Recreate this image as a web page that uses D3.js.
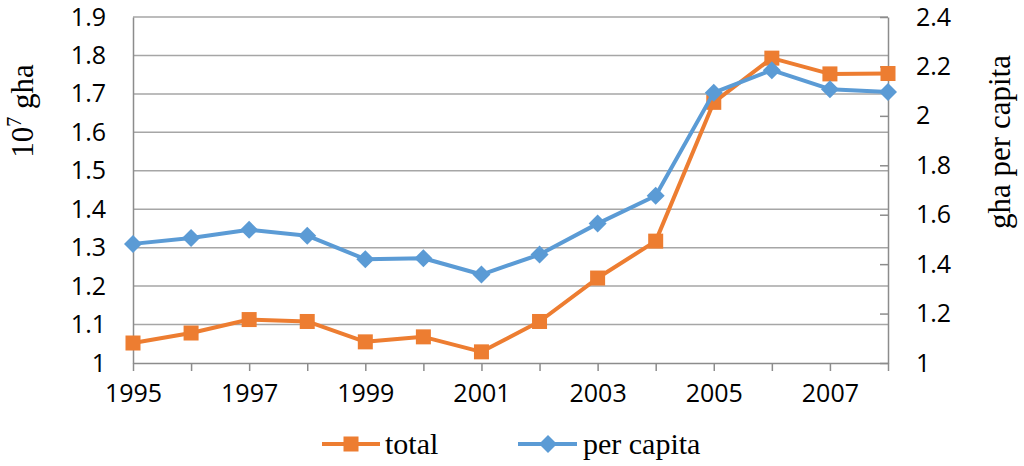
<!DOCTYPE html>
<html>
<head>
<meta charset="utf-8">
<script src="https://cdn.jsdelivr.net/npm/d3@7"></script>
<style>
  body { margin: 0; background: #fff; }
  text { fill: #000; }
</style>
</head>
<body>
<script>
// data
const years = [1995, 1996, 1997, 1998, 1999, 2000, 2001, 2002, 2003, 2004, 2005, 2006, 2007, 2008];
const total = [1.052, 1.078, 1.113, 1.108, 1.055, 1.068, 1.029, 1.108, 1.221, 1.317, 1.678, 1.793, 1.752, 1.753];
const perCapita = [1.482, 1.506, 1.539, 1.515, 1.420, 1.424, 1.358, 1.439, 1.564, 1.677, 2.094, 2.185, 2.108, 2.097];
const leftTicks = [1, 1.1, 1.2, 1.3, 1.4, 1.5, 1.6, 1.7, 1.8, 1.9];
const rightTicks = [1, 1.2, 1.4, 1.6, 1.8, 2, 2.2, 2.4];
const yearLabels = [1995, 1997, 1999, 2001, 2003, 2005, 2007];

const W = 1024, H = 466;
const margin = {top: 17, right: 136, bottom: 103, left: 133};
const w = W - margin.left - margin.right;
const h = H - margin.top - margin.bottom;

const orange = '#ED7D31', blue = '#5B9BD5';
const tickFont = '"Open Sans", sans-serif';
const titleFont = '"Liberation Serif", "Times New Roman", serif';

const svg = d3.select('body').append('svg')
    .attr('width', W)
    .attr('height', H);

const g = svg.append('g')
    .attr('transform', 'translate(' + margin.left + ',' + margin.top + ')');

const x = d3.scaleLinear().domain([1995, 2008]).range([0, w]);
const yL = d3.scaleLinear().domain([1, 1.9]).range([h, 0]);
const yR = d3.scaleLinear().domain([1, 2.4]).range([h, 0]);

// gridlines
g.append('g')
  .selectAll('line')
  .data(leftTicks.slice(1))
  .join('line')
    .attr('x1', 0).attr('x2', w)
    .attr('y1', d => yL(d)).attr('y2', d => yL(d))
    .attr('stroke', '#a6a6a6').attr('stroke-width', 1.5);

// left axis
const axL = g.append('g')
    .call(d3.axisLeft(yL).tickValues(leftTicks).tickSize(0).tickPadding(27).tickFormat(d3.format('')));
axL.select('.domain').attr('stroke', '#8c8c8c').attr('stroke-width', 1.5);
axL.selectAll('text').attr('font-family', tickFont).attr('font-size', 25).attr('fill', '#000');

// right axis
const axR = g.append('g')
    .attr('transform', 'translate(' + w + ',0)')
    .call(d3.axisRight(yR).tickValues(rightTicks).tickSizeInner(-8).tickSizeOuter(0).tickPadding(28).tickFormat(d3.format('')));
axR.select('.domain').attr('stroke', '#8c8c8c').attr('stroke-width', 1.5);
axR.selectAll('line').attr('stroke', '#8c8c8c').attr('stroke-width', 1.5);
axR.selectAll('text').attr('font-family', tickFont).attr('font-size', 25).attr('fill', '#000');

// bottom axis
const axB = g.append('g')
    .attr('transform', 'translate(0,' + h + ')')
    .call(d3.axisBottom(x).tickValues(years).tickSizeInner(8).tickSizeOuter(0).tickPadding(13)
      .tickFormat(d => yearLabels.includes(d) ? d : ''));
axB.select('.domain').attr('stroke', '#8c8c8c').attr('stroke-width', 1.5);
axB.selectAll('line').attr('stroke', '#8c8c8c').attr('stroke-width', 1.5);
axB.selectAll('text').attr('font-family', tickFont).attr('font-size', 25).attr('fill', '#000');

// lines
const lineL = d3.line().x((d, i) => x(years[i])).y(d => yL(d));
const lineR = d3.line().x((d, i) => x(years[i])).y(d => yR(d));

g.append('path').datum(total)
    .attr('d', lineL)
    .attr('fill', 'none').attr('stroke', orange).attr('stroke-width', 4).attr('stroke-linejoin', 'round');

g.append('g').selectAll('rect')
  .data(total)
  .join('rect')
    .attr('x', (d, i) => x(years[i]) - 7.5)
    .attr('y', d => yL(d) - 7.5)
    .attr('width', 15).attr('height', 15)
    .attr('fill', orange);

g.append('path').datum(perCapita)
    .attr('d', lineR)
    .attr('fill', 'none').attr('stroke', blue).attr('stroke-width', 4).attr('stroke-linejoin', 'round');

const diamond = 'M0,-9L9,0L0,9L-9,0Z';
g.append('g').selectAll('path')
  .data(perCapita)
  .join('path')
    .attr('d', diamond)
    .attr('transform', (d, i) => 'translate(' + x(years[i]) + ',' + yR(d) + ')')
    .attr('fill', blue);

// axis titles
svg.append('text')
    .attr('transform', 'translate(33,111) rotate(-90)')
    .attr('text-anchor', 'middle')
    .attr('font-family', titleFont).attr('font-size', 31)
    .html('10<tspan font-size="20" dy="-12">7</tspan><tspan dy="12"> gha</tspan>');

svg.append('text')
    .attr('transform', 'translate(1010,142) rotate(-90)')
    .attr('text-anchor', 'middle')
    .attr('font-family', titleFont).attr('font-size', 31)
    .text('gha per capita');

// legend
const legend = svg.append('g').attr('transform', 'translate(0,444)');
legend.append('line').attr('x1', 322).attr('x2', 380).attr('y1', 0).attr('y2', 0)
    .attr('stroke', orange).attr('stroke-width', 4);
legend.append('rect').attr('x', 351 - 7.5).attr('y', -7.5).attr('width', 15).attr('height', 15).attr('fill', orange);
legend.append('text').attr('x', 385).attr('y', 10)
    .attr('font-family', titleFont).attr('font-size', 30).text('total');

legend.append('line').attr('x1', 518).attr('x2', 577).attr('y1', 0).attr('y2', 0)
    .attr('stroke', blue).attr('stroke-width', 4);
legend.append('path').attr('d', diamond).attr('transform', 'translate(548,0)').attr('fill', blue);
legend.append('text').attr('x', 583).attr('y', 10)
    .attr('font-family', titleFont).attr('font-size', 30).text('per capita');
</script>
</body>
</html>
